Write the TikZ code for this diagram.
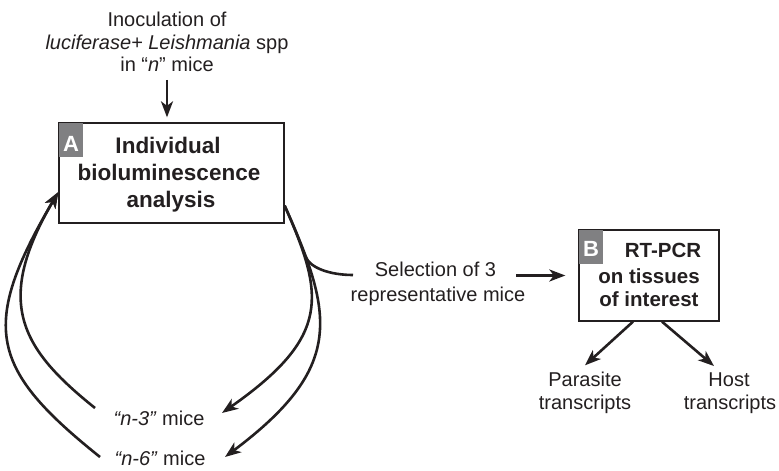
\documentclass[tikz,border=0pt]{standalone}
\usepackage{fontspec}
\setmainfont{Liberation Sans}
\usetikzlibrary{arrows.meta}
\definecolor{ink}{RGB}{35,31,32}
\definecolor{labgray}{RGB}{128,128,130}
\begin{document}
\begin{tikzpicture}[x=1bp,y=-1bp,
  txt/.style={inner sep=0pt, text=ink, font=\fontsize{20bp}{22.5bp}\selectfont},
  boldA/.style={inner sep=0pt, text=ink, font=\fontsize{22.5bp}{27bp}\selectfont\bfseries},
  boldB/.style={inner sep=0pt, text=ink, font=\fontsize{20.5bp}{25bp}\selectfont\bfseries},
  box/.style={draw=ink, line width=1.3bp, inner sep=0pt},
  labbox/.style={fill=labgray, inner sep=0pt, minimum width=24bp, minimum height=34bp},
  labtxt/.style={inner sep=0pt, text=white, font=\fontsize{22bp}{22bp}\selectfont\bfseries},
  conn/.style={draw=ink, line width=2.6bp},
  arr/.style={conn, -{Stealth[length=16bp,width=12bp,inset=4.5bp]}},
]
\useasboundingbox (0,0) rectangle (779,471);

% top text
\node[txt, anchor=base] (t1) at (167,27) {Inoculation of};
\node[txt, anchor=base] (t2) at (167,50) {\textit{luciferase+ Leishmania} spp};
\node[txt, anchor=base] (t3) at (167,72) {in “\textit{n}” mice};

% box A
\node[box, minimum width=225bp, minimum height=100bp] (A) at (171.5,173) {};
\node[labbox, anchor=north west] (LA) at (A.north west) {};
\node[labtxt, anchor=base] (LAt) at (71,152) {A};
\node[boldA, anchor=base] (a1) at (168,154) {Individual};
\node[boldA, anchor=base] (a2) at (169,181) {bioluminescence};
\node[boldA, anchor=base] (a3) at (171,208) {analysis};

% box B
\node[box, minimum width=140bp, minimum height=91bp] (B) at (649,275.5) {};
\node[labbox, anchor=north west] (LB) at (B.north west) {};
\node[labtxt, anchor=base] (LBt) at (591,257) {B};
\node[boldB, anchor=base] (b1) at (663,258) {RT-PCR};
\node[boldB, anchor=base] (b2) at (649,284) {on tissues};
\node[boldB, anchor=base] (b3) at (649,307) {of interest};

% selection text
\node[txt, anchor=base] (s1) at (435.5,277) {Selection of 3};
\node[txt, anchor=base] (s2) at (438,302) {representative mice};

% mice groups
\node[txt, anchor=base] (n3) at (159,425) {\textit{“n-3”} mice};
\node[txt, anchor=base] (n6) at (160,465) {\textit{“n-6”} mice};

% transcripts
\node[txt, anchor=base] (p1) at (585,387) {Parasite};
\node[txt, anchor=base] (p2) at (585,409) {transcripts};
\node[txt, anchor=base] (h1) at (729,387) {Host};
\node[txt, anchor=base] (h2) at (730,409) {transcripts};

% coordinates for curves
\coordinate (ra) at ([yshift=18bp]A.south east);
\coordinate (la) at ([yshift=-19bp]A.west);
\coordinate (n3in) at (222,413);
\coordinate (n6in) at (225,457);
\coordinate (n3out) at (95,408);
\coordinate (n6out) at (100,457);
\coordinate (j) at (305.5,256.5);
\coordinate (selin) at (353,275);

% connectors
\draw[arr] ([yshift=-8bp]t3.base) -- ([yshift=5bp]t3.base |- A.north);
\draw[arr] (ra) .. controls (324,295) and (332,336) .. (n3in);
\draw[arr] (ra) .. controls (333.5,315) and (345,367) .. (n6in);
\draw[conn] (j) .. controls (310,268) and (330,275) .. (selin);
\draw[arr] (n3out) .. controls (20,348) and (-6,302) .. (la);
\draw[arr] (n6out) .. controls (-10,369) and (-21,327) .. (la);
\draw[arr] ([xshift=20bp]s1.east |- B.west) -- ([xshift=-13bp]B.west);
\draw[arr] ([xshift=-16bp]B.south) -- ([yshift=7bp]p1.north);
\draw[arr] ([xshift=13bp]B.south) -- ([xshift=-15bp,yshift=7bp]h1.north);
\end{tikzpicture}
\end{document}
